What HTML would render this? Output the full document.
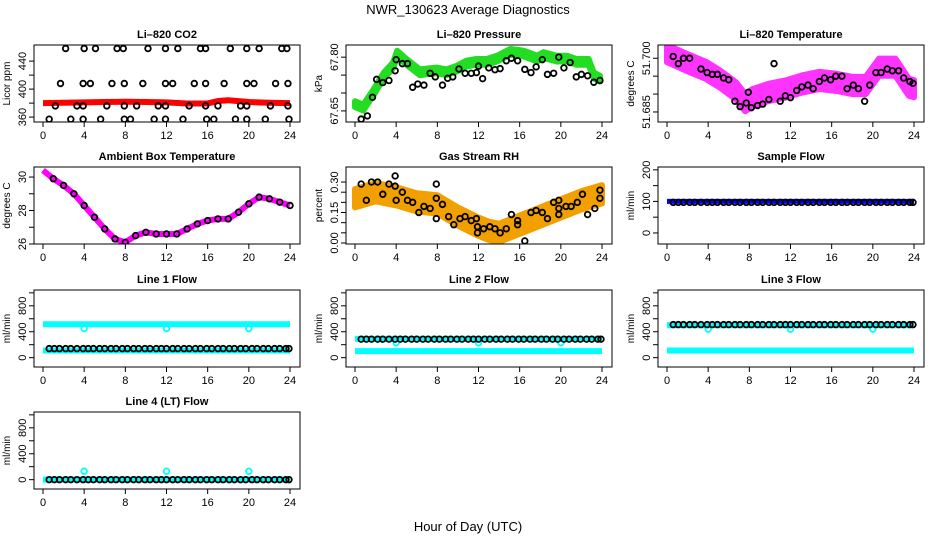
<!DOCTYPE html>
<html><head><meta charset="utf-8"><style>
html,body{margin:0;padding:0;background:#fff;}
svg{display:block;font-family:"Liberation Sans",Arial,sans-serif;}
</style></head><body>
<svg id="chart" width="936" height="540" viewBox="0 0 936 540">
<text x="468" y="14" font-size="13" text-anchor="middle">NWR_130623  Average Diagnostics</text>
<text x="468" y="531" font-size="13" text-anchor="middle">Hour of Day (UTC)</text>
</svg>
<script>
// ---- shared data ----
const xTicks = [0,4,8,12,16,20,24];
const blackTimes = [0.6,1.1,1.6,2.2,2.7,3.3,3.9,4.4,4.9,5.5,6.0,6.6,7.1,7.7,8.2,8.8,9.3,9.9,10.4,11.0,11.5,12.0,12.6,13.1,13.7,14.2,14.8,15.3,15.9,16.4,17.0,17.5,18.1,18.6,19.2,19.7,20.3,20.8,21.4,21.9,22.5,23.0,23.6,23.9];
const bandHours = [0,24];
// CO2
const co2BandT = [0,2,4,6,8,10,12,14,16,17,18,20,22,24];
const co2BandV = [380,380.5,381,381.5,382,381.5,381,379.5,379.5,383,384,381.5,380.5,380];
const co2PtT = [2.2,4.0,5.1,7.2,7.8,10.2,11.9,13.1,15.3,15.8,18.2,19.8,21.0,23.2,23.7, 1.7,3.9,4.6,6.7,7.9,9.7,11.9,12.6,14.7,15.8,17.6,19.8,20.5,22.6,23.8, 1.2,3.3,3.9,6.2,7.9,9.1,11.2,11.9,14.2,15.8,17.0,19.2,19.8,22.1,23.8, 0.6,2.7,3.9,5.6,7.9,8.5,10.8,11.9,13.6,15.9,16.6,18.7,19.8,21.6,23.9];
const co2PtV = [458,458,458,458,458,458,458,458,458,458,458,458,458,458,458, 408,408,408,408,408,408,408,408,408,408,408,408,408,408,408, 376,376,376,376,376,376,376,376,376,376,376,376,376,376,376, 357,357,357,357,357,357,357,357,357,357,357,357,357,357,357];
// Pressure
const presBandT = [0,0.8,1.8,2.8,3.7,4.1,5.0,6.3,7.9,8.9,9.9,10.8,11.8,12.8,13.8,15.1,16.4,17.7,18.3,19.6,20.6,21.5,22.7,23.2,23.8];
const presBandV = [67.669,67.659,67.702,67.749,67.777,67.810,67.787,67.758,67.763,67.758,67.768,67.782,67.787,67.787,67.796,67.815,67.810,67.796,67.806,67.796,67.796,67.787,67.787,67.749,67.740];
const presPtT = [0.6,1.2,1.7,2.1,2.7,3.3,3.9,4.0,4.6,5.1,5.6,6.1,6.7,7.3,7.8,8.5,9.0,9.5,10.1,10.7,11.3,11.8,12.0,12.4,13.0,13.6,14.1,14.7,15.2,15.8,16.5,17.1,17.6,18.2,18.7,19.3,19.8,20.3,20.9,21.5,22.0,22.6,23.2,23.8];
const presPtV = [67.627,67.636,67.688,67.738,67.729,67.735,67.762,67.793,67.782,67.782,67.716,67.725,67.722,67.755,67.745,67.722,67.741,67.745,67.767,67.755,67.755,67.757,67.775,67.740,67.770,67.765,67.768,67.790,67.797,67.790,67.766,67.757,67.773,67.793,67.752,67.755,67.800,67.770,67.785,67.745,67.752,67.748,67.730,67.735];
// Li-820 temperature
const tempBandT = [0,1.8,3.8,5.1,6.7,7.6,8.3,9.9,11.5,13.1,14.8,16.4,18.0,19.3,20.6,22.2,23.5,24];
const tempBandV = [51.7013,51.6990,51.6966,51.6943,51.6909,51.6876,51.6890,51.6905,51.6914,51.6928,51.6938,51.6933,51.6924,51.6924,51.6975,51.6975,51.6919,51.6915];
const tempPtT = [0.6,1.1,1.6,2.2,3.3,3.9,4.4,4.9,5.5,6.0,6.6,7.1,7.7,7.9,8.2,8.8,9.3,9.9,10.4,11.0,11.5,12.0,12.6,13.1,13.7,14.2,14.8,15.3,15.9,16.4,17.0,17.5,18.1,18.6,19.2,19.7,20.3,20.8,21.4,21.9,22.5,23.0,23.6,23.9];
const tempPtV = [51.7005,51.6985,51.7000,51.7000,51.6970,51.6960,51.6955,51.6955,51.6945,51.6940,51.6880,51.6865,51.6875,51.6905,51.6862,51.6868,51.6872,51.6885,51.6985,51.6880,51.6895,51.6890,51.6910,51.6920,51.6925,51.6915,51.6935,51.6945,51.6940,51.6950,51.6950,51.6915,51.6925,51.6915,51.6880,51.6925,51.6960,51.6960,51.6970,51.6965,51.6965,51.6945,51.6935,51.6930];
// Ambient box temperature
const ambT = [0,1,2,3,4,5,6,7,8,9,10,11,12,13,14,15,16,17,18,19,20,21,22,23,24];
const ambV = [30.4,29.9,29.5,29.0,28.3,27.6,26.9,26.3,26.1,26.5,26.7,26.6,26.6,26.6,26.9,27.2,27.4,27.5,27.5,27.9,28.4,28.8,28.7,28.5,28.3];
// Gas stream RH
const rhBandT = [0,2,4,6,8,10,12,13,14,15,16,17,18,20,22,24];
const rhBandV = [0.22,0.25,0.23,0.20,0.19,0.13,0.08,0.06,0.05,0.07,0.09,0.11,0.13,0.17,0.21,0.24];
const rhPtT = [0.6,1.1,1.6,2.2,2.7,3.3,3.9,3.9,4.0,4.6,5.1,5.6,6.2,6.7,7.3,7.9,7.9,8.5,7.9,9.1,9.6,10.2,10.7,11.3,11.8,11.9,11.9,12.5,13.1,13.6,14.1,14.7,15.2,15.8,15.8,16.5,17.1,17.6,18.2,18.7,19.3,19.8,19.8,19.8,20.5,21.0,21.6,22.1,22.6,23.3,23.8,23.8];
const rhPtV = [0.29,0.21,0.30,0.30,0.24,0.29,0.33,0.28,0.21,0.25,0.21,0.20,0.15,0.18,0.17,0.22,0.29,0.19,0.12,0.13,0.09,0.12,0.13,0.11,0.12,0.05,0.08,0.07,0.08,0.07,0.05,0.07,0.14,0.09,0.11,0.01,0.15,0.16,0.15,0.12,0.20,0.21,0.17,0.14,0.18,0.18,0.20,0.24,0.14,0.17,0.26,0.22];
// Flows (level values)
const sampleBand = [100,100];
const samplePts = 97;
const line1Bands = [515,110]; const line1Pts = 140; const line1Dips = [4,12,20]; const line1DipV = 450;
const line2Bands = [290,100]; const line2Pts = 285; const line2DipV = 230;
const line3Bands = [500,110]; const line3Pts = 510; const line3DipV = 440;
const line4Bands = [0]; const line4Pts = 0; const line4Spikes = [4,12,20]; const line4SpikeV = 130;

const NS = "http://www.w3.org/2000/svg";
const svg = document.getElementById('chart');
function mk(tag, attrs, parent){
  const e = document.createElementNS(NS, tag);
  for (const k in attrs) e.setAttribute(k, attrs[k]);
  (parent||svg).appendChild(e);
  return e;
}
const colL = [34,346,658], rowT = [45,167,290,412], W = 266, H = 77;
function panel(ci, ri, title, ylab, dom, ticks, labels, name){
  const L = colL[ci], T = rowT[ri];
  const g = mk('g', {});
  
  
  const xs = h => L + 9 + (h/24)*247;
  const ys = v => T + H - (v - dom[0])/(dom[1]-dom[0])*H;
  const t = mk('text', {x: L+W/2, y: T-7, 'font-size': 11, 'font-weight':'bold', 'text-anchor':'middle'}, g);
  t.textContent = title;
  
  
  const yl = mk('text', {x: 0, y: 0, 'font-size': 10, 'text-anchor':'middle', transform:`translate(${L-24},${T+H/2}) rotate(-90)`}, g);
  yl.textContent = ylab;
  
  
  const xa = mk('g', {}, g);
  
  
  xTicks.forEach(h => {
    mk('line', {x1: xs(h), x2: xs(h), y1: T+H, y2: T+H+5, stroke:'#000'}, xa);
    const lt = mk('text', {x: xs(h), y: T+H+17, 'font-size': 11, 'text-anchor':'middle'}, xa);
    lt.textContent = h;
  });
  const ya = mk('g', {}, g);
  
  
  ticks.forEach((v,i) => {
    mk('line', {x1: L-5, x2: L, y1: ys(v), y2: ys(v), stroke:'#000'}, ya);
    if (labels[i]) {
      const lt = mk('text', {x:0, y:0, 'font-size': 11, 'text-anchor':'middle', transform:`translate(${L-8},${ys(v)}) rotate(-90)`}, ya);
      lt.textContent = labels[i];
    }
  });
  const clipId = 'c'+name;
  const cp = mk('clipPath', {id: clipId}, g);
  mk('rect', {x: L, y: T, width: W, height: H}, cp);
  const plot = mk('g', {'clip-path': `url(#${clipId})`}, g);
  mk('rect', {x: L, y: T, width: W, height: H, fill:'none', stroke:'#000', 'stroke-width':1}, g);
  return {xs, ys, plot};
}
function band(p, T, V, color, widthPx, name){
  const pl = mk('polyline', {points: T.map((h,i)=>p.xs(h)+','+p.ys(V[i])).join(' '), fill:'none', stroke:color, 'stroke-width':widthPx, 'stroke-linejoin':'round', 'stroke-linecap':'butt'}, p.plot);
  
  
}
function cloud(p, T, V, half, color, name){
  const up = T.map((h,i)=>p.xs(h)+','+p.ys(V[i]+half));
  const dn = T.map((h,i)=>p.xs(h)+','+p.ys(V[i]-half)).reverse();
  const pg = mk('polygon', {points: up.concat(dn).join(' '), fill:color, stroke:color, 'stroke-width':6, 'stroke-linejoin':'round'}, p.plot);
  
  
}
function pts(p, T, V, color, name){
  const g = mk('g', {}, p.plot);
  
  
  T.forEach((h,i) => {
    const c = mk('circle', {cx: p.xs(h), cy: p.ys(V[i]), r: 2.8, fill:'none', stroke:color, 'stroke-width':1.8}, g);
    
    
  });
}
const flat = (v) => blackTimes.map(()=>v);

// CO2
let p = panel(0,0,'Li\u2013820 CO2','Licor ppm',[353,463],[360,380,400,420,440],['360','','400','','440'],'co2');
band(p, co2BandT, co2BandV, '#ff0000', 6, 'co2-band');
pts(p, co2PtT, co2PtV, '#000', 'co2-hourly');
// Pressure
p = panel(1,0,'Li\u2013820 Pressure','kPa',[67.619,67.834],[67.65,67.70,67.75,67.80],['67.65','','','67.80'],'pressure');
cloud(p, presBandT, presBandV, 0.008, '#22dd22', 'pressure-band');
pts(p, presPtT, presPtV, '#000', 'pressure-hourly');
// Temperature
p = panel(2,0,'Li\u2013820 Temperature','degrees C',[51.6822,51.7037],[51.685,51.690,51.695,51.700],['51.685','','','51.700'],'li820-temp');
cloud(p, tempBandT, tempBandV, 0.0024, '#ff33ff', 'li820-temp-cloud');
pts(p, tempPtT, tempPtV, '#000', 'li820-temp-hourly');
// Ambient
p = panel(0,1,'Ambient Box Temperature','degrees C',[26,30.6],[26,27,28,29,30],['26','','28','','30'],'ambient');
band(p, ambT, ambV, '#ff00ff', 6, 'ambient-band');
pts(p, ambT.slice(1), ambV.slice(1), '#000', 'ambient-hourly');
// RH
p = panel(1,1,'Gas Stream RH','percent',[-0.005,0.374],[0,0.05,0.10,0.15,0.20,0.25,0.30],['0.00','','','0.15','','','0.30'],'rh');
cloud(p, rhBandT, rhBandV, 0.045, '#f2a000', 'rh-cloud');
pts(p, rhPtT, rhPtV, '#000', 'rh-hourly');
// Sample flow
p = panel(2,1,'Sample Flow','ml/min',[-35,209],[0,50,100,150,200],['0','','100','','200'],'sample-flow');
band(p, bandHours, sampleBand, '#0000ff', 5, 'sample-flow-band');
pts(p, blackTimes, flat(samplePts), '#000', 'sample-flow-hourly');
const fTicks = [0,200,400,600,800,1000], fLab = ['0','','400','','800',''], fDom = [-144,1044];
// Line 1
p = panel(0,2,'Line 1 Flow','ml/min',fDom,fTicks,fLab,'line1');
line1Bands.forEach((v,i)=>band(p, bandHours, [v,v], '#00ffff', 6, 'line1-band-'+i));
pts(p, line1Dips, line1Dips.map(()=>line1DipV), '#00ffff', 'line1-dips');
pts(p, blackTimes, flat(line1Pts), '#000', 'line1-hourly');
// Line 2
p = panel(1,2,'Line 2 Flow','ml/min',fDom,fTicks,fLab,'line2');
line2Bands.forEach((v,i)=>band(p, bandHours, [v,v], '#00ffff', 6, 'line2-band-'+i));
pts(p, line1Dips, line1Dips.map(()=>line2DipV), '#00ffff', 'line2-dips');
pts(p, blackTimes, flat(line2Pts), '#000', 'line2-hourly');
// Line 3
p = panel(2,2,'Line 3 Flow','ml/min',fDom,fTicks,fLab,'line3');
line3Bands.forEach((v,i)=>band(p, bandHours, [v,v], '#00ffff', 6, 'line3-band-'+i));
pts(p, line1Dips, line1Dips.map(()=>line3DipV), '#00ffff', 'line3-dips');
pts(p, blackTimes, flat(line3Pts), '#000', 'line3-hourly');
// Line 4
p = panel(0,3,'Line 4 (LT) Flow','ml/min',fDom,fTicks,fLab,'line4');
line4Bands.forEach((v,i)=>band(p, bandHours, [v,v], '#00ffff', 6, 'line4-band-'+i));
pts(p, line4Spikes, line4Spikes.map(()=>line4SpikeV), '#00ffff', 'line4-spikes');
pts(p, blackTimes, flat(line4Pts), '#000', 'line4-hourly');
</script>
</body></html>
